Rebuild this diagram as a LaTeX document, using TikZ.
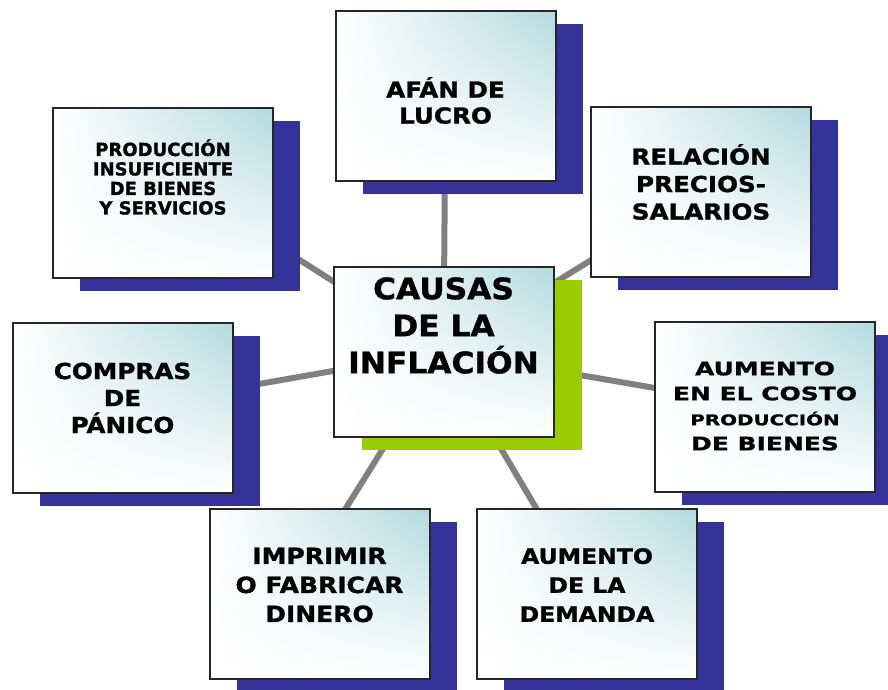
\documentclass[tikz,border=0pt]{standalone}
\usepackage{fontspec}
\setmainfont{DejaVu Sans}
\newfontfamily\fA{DejaVu Sans}[FakeBold=1.2]
\newfontfamily\fB{DejaVu Sans}[FakeStretch=1.06,FakeBold=1.2]
\newfontfamily\fC{DejaVu Sans}[FakeStretch=1.12,FakeBold=1.2]
\newfontfamily\fD{DejaVu Sans}[FakeStretch=1.35,FakeBold=1.2]
\usetikzlibrary{shadows,shadings,backgrounds}
\definecolor{shblue}{RGB}{51,51,153}
\definecolor{shgreen}{RGB}{153,204,0}
\definecolor{tealtop}{RGB}{178,218,222}
\definecolor{linkgray}{RGB}{128,128,128}

\begin{document}
\begin{tikzpicture}[x=1pt,y=-1pt,
    box/.style={rectangle,draw=black!85,line width=2pt,
      minimum width=220pt,minimum height=170pt,
      upper left=white,upper right=tealtop,lower left=white,lower right=white},
    cause/.style={box,general shadow={fill=shblue,shadow xshift=27pt,shadow yshift=-13pt}},
    core/.style={box,general shadow={fill=shgreen,shadow xshift=28pt,shadow yshift=-13pt}},
    lbl/.style n args={3}{align=center,font=#1\bfseries\fontsize{#2}{#3}\selectfont},
    link/.style={linkgray,line width=6pt}]
  \useasboundingbox (0,0) rectangle (888,689);

  % boxes
  \node[core]  (causas)   at (443.5,351.5) {};
  \node[cause] (lucro)    at (445.5,95.5) {};
  \node[cause] (prod)     at (163,193) {};
  \node[cause] (rel)      at (701,192) {};
  \node[cause] (compras)  at (122.5,408) {};
  \node[cause] (costo)    at (765,407) {};
  \node[cause] (imprimir) at (319.5,594) {};
  \node[cause] (demanda)  at (587,594) {};

  % texts
  \node[lbl={\fB}{29.5}{37}] (causas-t) at ([yshift=26pt]causas.center) {CAUSAS\\DE LA\\INFLACIÓN};
  \node[lbl={\fC}{22}{26}] (lucro-t) at ([yshift=-5pt]lucro.center) {AFÁN DE\\LUCRO};
  \node[lbl={\fA}{18}{19.5}] (prod-t) at ([yshift=16pt]prod.center) {PRODUCCIÓN\\INSUFICIENTE\\DE BIENES\\Y SERVICIOS};
  \node[lbl={\fC}{22}{27.5}] (rel-t) at ([yshift=10pt]rel.center) {RELACIÓN\\PRECIOS-\\SALARIOS};
  \node[lbl={\fC}{22}{27}] (compras-t) at ([yshift=10pt]compras.center) {COMPRAS\\DE\\PÁNICO};
  \node[lbl={\fD}{18.5}{25}] (costo-t) at ([yshift=1pt]costo.center)
    {AUMENTO\\EN EL COSTO\\{\fontsize{14.7}{23}\selectfont PRODUCCIÓN}\\DE BIENES};
  \node[lbl={\fC}{22.3}{29}] (imprimir-t) at ([yshift=9pt]imprimir.center) {IMPRIMIR\\O FABRICAR\\DINERO};
  \node[lbl={\fC}{21}{29}] (demanda-t) at ([yshift=9pt]demanda.center) {AUMENTO\\DE LA\\DEMANDA};

  % links behind everything
  \begin{pgfonlayer}{background}
    \draw[link] (causas.center) -- (lucro.center);
    \draw[link] (causas.center) -- ([yshift=20pt]prod.center);
    \draw[link] (causas.center) -- (rel.center);
    \draw[link] (causas.center) -- (compras.center);
    \draw[link] (causas.center) -- (costo.center);
    \draw[link] (causas.center) -- ([xshift=-27pt]imprimir.center);
    \draw[link] (causas.center) -- (demanda.center);
  \end{pgfonlayer}
\end{tikzpicture}
\end{document}
